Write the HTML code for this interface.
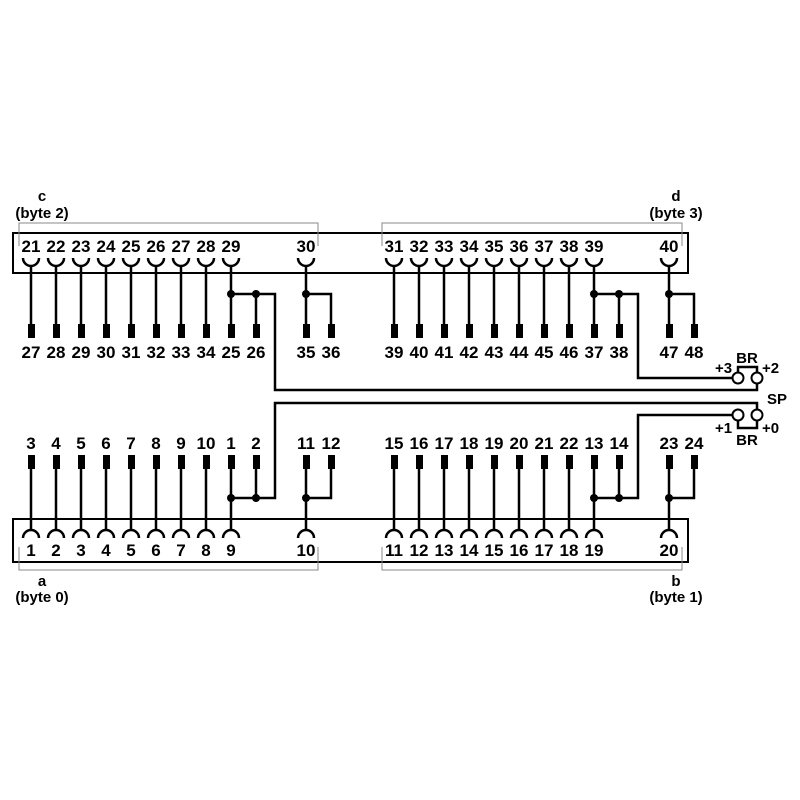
<!DOCTYPE html>
<html><head><style>body{margin:0;background:#fff}svg{display:block}</style></head><body>
<svg width="800" height="800" viewBox="0 0 800 800" xmlns="http://www.w3.org/2000/svg" font-family="Liberation Sans, sans-serif" font-weight="bold" font-size="17">
<g fill="none" stroke="#000">
<rect x="13" y="233" width="675" height="40" stroke-width="2"/>
<rect x="13" y="519" width="675" height="43" stroke-width="2"/>
<g stroke="#888" stroke-width="1">
<path d="M19 246V223H318V246M382 246V223H682V246"/>
<path d="M19 547V570H318V547M382 547V570H682V547"/>
</g>
<g stroke-width="2.5">
<path d="M23 258a8 8 0 0 0 16 0M48 258a8 8 0 0 0 16 0M73 258a8 8 0 0 0 16 0M98 258a8 8 0 0 0 16 0M123 258a8 8 0 0 0 16 0M148 258a8 8 0 0 0 16 0M173 258a8 8 0 0 0 16 0M198 258a8 8 0 0 0 16 0M223 258a8 8 0 0 0 16 0M298 258a8 8 0 0 0 16 0M386 258a8 8 0 0 0 16 0M411 258a8 8 0 0 0 16 0M436 258a8 8 0 0 0 16 0M461 258a8 8 0 0 0 16 0M486 258a8 8 0 0 0 16 0M511 258a8 8 0 0 0 16 0M536 258a8 8 0 0 0 16 0M561 258a8 8 0 0 0 16 0M586 258a8 8 0 0 0 16 0M661 258a8 8 0 0 0 16 0"/>
<path d="M31 266V330M56 266V330M81 266V330M106 266V330M131 266V330M156 266V330M181 266V330M206 266V330M231 266V330M306 266V330M394 266V330M419 266V330M444 266V330M469 266V330M494 266V330M519 266V330M544 266V330M569 266V330M594 266V330M669 266V330"/>
<path d="M231 294H275V390H757V378M256 294V330M306 294H331V330M594 294H638V378H733M619 294V330M669 294H694V330"/>
<path d="M738 373V367H757V373"/>
<path d="M23 538a8 8 0 0 1 16 0M48 538a8 8 0 0 1 16 0M73 538a8 8 0 0 1 16 0M98 538a8 8 0 0 1 16 0M123 538a8 8 0 0 1 16 0M148 538a8 8 0 0 1 16 0M173 538a8 8 0 0 1 16 0M198 538a8 8 0 0 1 16 0M223 538a8 8 0 0 1 16 0M298 538a8 8 0 0 1 16 0M386 538a8 8 0 0 1 16 0M411 538a8 8 0 0 1 16 0M436 538a8 8 0 0 1 16 0M461 538a8 8 0 0 1 16 0M486 538a8 8 0 0 1 16 0M511 538a8 8 0 0 1 16 0M536 538a8 8 0 0 1 16 0M561 538a8 8 0 0 1 16 0M586 538a8 8 0 0 1 16 0M661 538a8 8 0 0 1 16 0"/>
<path d="M31 462V530M56 462V530M81 462V530M106 462V530M131 462V530M156 462V530M181 462V530M206 462V530M231 462V530M306 462V530M394 462V530M419 462V530M444 462V530M469 462V530M494 462V530M519 462V530M544 462V530M569 462V530M594 462V530M669 462V530"/>
<path d="M231 498H275V403H757V410M256 498V462M306 498H331V462M594 498H638V415H733M619 498V462M669 498H694V462"/>
<path d="M738 420V428H757V420"/>
</g>
<g stroke-width="2" fill="#fff">
<circle cx="738" cy="378" r="5.5"/><circle cx="757" cy="378" r="5.5"/>
<circle cx="738" cy="415" r="5.5"/><circle cx="757" cy="415" r="5.5"/>
</g>
</g>
<g fill="#000">
<g id="rt">
<rect x="28" y="324" width="7" height="14"/><rect x="53" y="324" width="7" height="14"/><rect x="78" y="324" width="7" height="14"/><rect x="103" y="324" width="7" height="14"/><rect x="128" y="324" width="7" height="14"/><rect x="153" y="324" width="7" height="14"/><rect x="178" y="324" width="7" height="14"/><rect x="203" y="324" width="7" height="14"/><rect x="228" y="324" width="7" height="14"/><rect x="253" y="324" width="7" height="14"/><rect x="303" y="324" width="7" height="14"/><rect x="328" y="324" width="7" height="14"/>
<rect x="391" y="324" width="7" height="14"/><rect x="416" y="324" width="7" height="14"/><rect x="441" y="324" width="7" height="14"/><rect x="466" y="324" width="7" height="14"/><rect x="491" y="324" width="7" height="14"/><rect x="516" y="324" width="7" height="14"/><rect x="541" y="324" width="7" height="14"/><rect x="566" y="324" width="7" height="14"/><rect x="591" y="324" width="7" height="14"/><rect x="616" y="324" width="7" height="14"/><rect x="666" y="324" width="7" height="14"/><rect x="691" y="324" width="7" height="14"/>
</g>
<use href="#rt" y="131"/>
<circle cx="231" cy="294" r="4"/><circle cx="256" cy="294" r="4"/><circle cx="306" cy="294" r="4"/><circle cx="594" cy="294" r="4"/><circle cx="619" cy="294" r="4"/><circle cx="669" cy="294" r="4"/>
<circle cx="231" cy="498" r="4"/><circle cx="256" cy="498" r="4"/><circle cx="306" cy="498" r="4"/><circle cx="594" cy="498" r="4"/><circle cx="619" cy="498" r="4"/><circle cx="669" cy="498" r="4"/>
<g text-anchor="middle">
<text x="31" y="252">21</text><text x="56" y="252">22</text><text x="81" y="252">23</text><text x="106" y="252">24</text><text x="131" y="252">25</text><text x="156" y="252">26</text><text x="181" y="252">27</text><text x="206" y="252">28</text><text x="231" y="252">29</text><text x="306" y="252">30</text>
<text x="394" y="252">31</text><text x="419" y="252">32</text><text x="444" y="252">33</text><text x="469" y="252">34</text><text x="494" y="252">35</text><text x="519" y="252">36</text><text x="544" y="252">37</text><text x="569" y="252">38</text><text x="594" y="252">39</text><text x="669" y="252">40</text>
<text x="31" y="358">27</text><text x="56" y="358">28</text><text x="81" y="358">29</text><text x="106" y="358">30</text><text x="131" y="358">31</text><text x="156" y="358">32</text><text x="181" y="358">33</text><text x="206" y="358">34</text><text x="231" y="358">25</text><text x="256" y="358">26</text><text x="306" y="358">35</text><text x="331" y="358">36</text>
<text x="394" y="358">39</text><text x="419" y="358">40</text><text x="444" y="358">41</text><text x="469" y="358">42</text><text x="494" y="358">43</text><text x="519" y="358">44</text><text x="544" y="358">45</text><text x="569" y="358">46</text><text x="594" y="358">37</text><text x="619" y="358">38</text><text x="669" y="358">47</text><text x="694" y="358">48</text>
<text x="31" y="449">3</text><text x="56" y="449">4</text><text x="81" y="449">5</text><text x="106" y="449">6</text><text x="131" y="449">7</text><text x="156" y="449">8</text><text x="181" y="449">9</text><text x="206" y="449">10</text><text x="231" y="449">1</text><text x="256" y="449">2</text><text x="306" y="449">11</text><text x="331" y="449">12</text>
<text x="394" y="449">15</text><text x="419" y="449">16</text><text x="444" y="449">17</text><text x="469" y="449">18</text><text x="494" y="449">19</text><text x="519" y="449">20</text><text x="544" y="449">21</text><text x="569" y="449">22</text><text x="594" y="449">13</text><text x="619" y="449">14</text><text x="669" y="449">23</text><text x="694" y="449">24</text>
<text x="31" y="556">1</text><text x="56" y="556">2</text><text x="81" y="556">3</text><text x="106" y="556">4</text><text x="131" y="556">5</text><text x="156" y="556">6</text><text x="181" y="556">7</text><text x="206" y="556">8</text><text x="231" y="556">9</text><text x="306" y="556">10</text>
<text x="394" y="556">11</text><text x="419" y="556">12</text><text x="444" y="556">13</text><text x="469" y="556">14</text><text x="494" y="556">15</text><text x="519" y="556">16</text><text x="544" y="556">17</text><text x="569" y="556">18</text><text x="594" y="556">19</text><text x="669" y="556">20</text>
<text x="42" y="201" font-size="15">c</text><text x="42" y="218" font-size="15">(byte 2)</text>
<text x="676" y="201" font-size="15">d</text><text x="676" y="218" font-size="15">(byte 3)</text>
<text x="42" y="586" font-size="15">a</text><text x="42" y="602" font-size="15">(byte 0)</text>
<text x="676" y="586" font-size="15">b</text><text x="676" y="602" font-size="15">(byte 1)</text>
<text x="747" y="363" font-size="15">BR</text><text x="747" y="445" font-size="15">BR</text>
<text x="777" y="404" font-size="15">SP</text>
</g>
<text x="715" y="373" font-size="15">+3</text><text x="762" y="373" font-size="15">+2</text>
<text x="715" y="433" font-size="15">+1</text><text x="762" y="433" font-size="15">+0</text>
</g>
</svg>
</body></html>
